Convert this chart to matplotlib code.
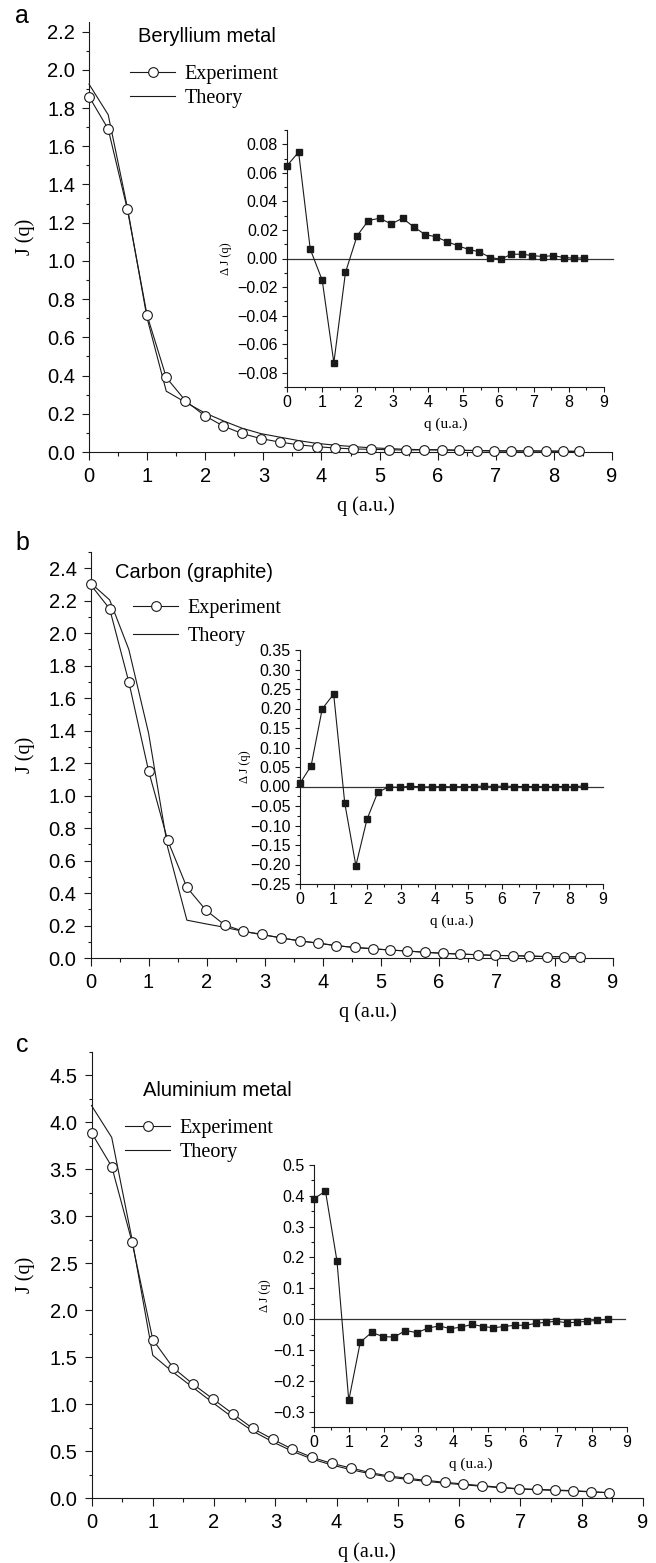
import numpy as np
import matplotlib
matplotlib.use('Agg')
from matplotlib import pyplot as plt
from matplotlib.lines import Line2D
from matplotlib.ticker import MultipleLocator

plt.rcParams['font.family'] = ['Liberation Sans', 'DejaVu Sans']
SERIF = ['Liberation Serif', 'DejaVu Serif']

# momentum grid (a.u.)
q = [0.0, 0.33, 0.66, 1.0, 1.33, 1.66, 1.99, 2.31, 2.63, 2.96, 3.28, 3.60, 3.92, 4.23,
     4.55, 4.86, 5.16, 5.46, 5.77, 6.07, 6.37, 6.68, 6.97, 7.27, 7.56, 7.86, 8.15, 8.44]

# beryllium
be_exp = [1.86, 1.69, 1.27, 0.715, 0.39, 0.268, 0.19, 0.136, 0.097, 0.070, 0.052, 0.038, 0.028, 0.021,
          0.016, 0.014, 0.012, 0.010, 0.012, 0.012, 0.009, 0.007, 0.005, 0.005, 0.005, 0.005, 0.004, 0.003]
be_th = [1.925, 1.765, 1.28, 0.70, 0.318, 0.26, 0.205, 0.163, 0.125, 0.096, 0.078, 0.060, 0.045, 0.036,
         0.028, 0.022, 0.018, 0.014, 0.012, 0.010, 0.009, 0.008, 0.007, 0.006, 0.006, 0.005, 0.004, 0.003]
be_dj = [0.065, 0.0745, 0.0065, -0.0152, -0.073, -0.0098, 0.0159, 0.0266, 0.0282, 0.0242, 0.0282, 0.0221,
         0.0168, 0.0152, 0.0117, 0.0089, 0.0063, 0.0047, 0.0007, -0.0005, 0.003, 0.003, 0.002, 0.0014,
         0.002, 0.0007, 0.0002, 0.0005]

# graphite
gr_exp = [2.30, 2.15, 1.70, 1.153, 0.724, 0.435, 0.294, 0.204, 0.165, 0.145, 0.124, 0.106, 0.092, 0.076,
          0.065, 0.057, 0.049, 0.043, 0.035, 0.029, 0.024, 0.020, 0.016, 0.014, 0.012, 0.008, 0.008, 0.006]
gr_th = [2.31, 2.205, 1.90, 1.385, 0.68, 0.233, 0.21, 0.189, 0.164, 0.143, 0.124, 0.105, 0.091, 0.076,
         0.065, 0.057, 0.049, 0.043, 0.035, 0.029, 0.024, 0.020, 0.016, 0.014, 0.012, 0.009, 0.008, 0.008]
gr_dj = [0.008, 0.053, 0.199, 0.237, -0.043, -0.203, -0.084, -0.015, -0.001, -0.002, 0.001, -0.001, -0.001, 0.0,
         -0.001, 0.0, 0.0, 0.001, 0.0, 0.001, 0.0, 0.0, 0.0, 0.0, 0.0, 0.0, -0.001, 0.002]

# aluminium
al_exp = [3.89, 3.53, 2.73, 1.687, 1.389, 1.211, 1.051, 0.895, 0.742, 0.625, 0.519, 0.433, 0.369, 0.320,
          0.270, 0.234, 0.210, 0.188, 0.167, 0.149, 0.131, 0.114, 0.099, 0.092, 0.085, 0.078, 0.067, 0.057]
al_th = [4.18, 3.84, 2.76, 1.52, 1.34, 1.175, 1.01, 0.855, 0.713, 0.597, 0.497, 0.415, 0.352, 0.302,
         0.258, 0.222, 0.198, 0.177, 0.158, 0.141, 0.125, 0.109, 0.096, 0.088, 0.081, 0.074, 0.065, 0.056]
al_dj = [0.391, 0.415, 0.189, -0.264, -0.075, -0.043, -0.057, -0.058, -0.037, -0.044, -0.029, -0.022, -0.031,
         -0.026, -0.017, -0.024, -0.028, -0.024, -0.020, -0.020, -0.014, -0.010, -0.007, -0.012, -0.010,
         -0.007, -0.004, -0.001]

letters = ['a', 'b', 'c']
titles = ['Beryllium metal', 'Carbon (graphite)', 'Aluminium metal']
legend_labels = ['Experiment', 'Theory']
exps = [be_exp, gr_exp, al_exp]
theories = [be_th, gr_th, al_th]
deltas = [be_dj, gr_dj, al_dj]

W, H = 656, 1563
DPI = 100
fig = plt.figure(figsize=(W / DPI, H / DPI), dpi=DPI)


def rect(l, r, t, b):
    return [l / W, (H - b) / H, (r - l) / W, (b - t) / H]


def fx(x):
    return x / W


def fy(y):
    return (H - y) / H


# layout in pixels: main (l, r, t, b), inset (l, r, t, b)
main_px = [(89, 612, 22, 452), (90.5, 613, 552, 958), (91.5, 643, 1052, 1498)]
inset_px = [(287, 604, 130, 387), (300, 603, 650, 884), (314, 627, 1165, 1427)]
main_ylim = [(0, 2.25), (0, 2.5), (0, 4.75)]
main_major = [0.2, 0.2, 0.5]
inset_ylim = [(-0.09, 0.09), (-0.25, 0.35), (-0.35, 0.5)]
inset_major = [0.02, 0.05, 0.1]
inset_fmt = ['{x:.2f}', '{x:.2f}', '{x:.1f}']
zero_xmax = [1.028, 1.0, 0.995]
letter_xy = [(22, 16), (22, 543), (22, 1045)]
title_xy = [(138, 37), (115, 572), (143, 1090)]
legend_xy = [(130, 86.5), (133, 622.5), (125, 1140.5)]
legend_space = [0.25, 0.45, 0.22]
inset_ylab_px = [226, 245, 265]

ink = '#1a1a1a'

for i in range(3):
    ax = fig.add_axes(rect(*main_px[i]))
    ax.plot(q, theories[i], color=ink, lw=0.8, clip_on=False, zorder=2)
    ax.plot(q, exps[i], color=ink, lw=0.8, marker='o', ms=7, mfc='white', mec=ink, mew=0.8,
            clip_on=False, zorder=3)
    ax.set_xlim(0, 9)
    ax.set_ylim(*main_ylim[i])
    ax.xaxis.set_major_locator(MultipleLocator(1))
    ax.xaxis.set_minor_locator(MultipleLocator(0.5))
    ax.yaxis.set_major_locator(MultipleLocator(main_major[i]))
    ax.yaxis.set_minor_locator(MultipleLocator(main_major[i] / 2))
    ax.yaxis.set_major_formatter('{x:.1f}')
    for s in ['top', 'right']:
        ax.spines[s].set_visible(False)
    for s in ['left', 'bottom']:
        ax.spines[s].set_linewidth(0.8)
        ax.spines[s].set_color(ink)
    ax.tick_params(axis='x', which='major', direction='out', length=6, width=0.8, pad=5,
                   labelsize=14.5, color=ink)
    ax.tick_params(axis='x', which='minor', direction='out', length=3, width=0.8, color=ink)
    ax.tick_params(axis='y', which='major', direction='out', length=5, width=0.8, pad=5,
                   labelsize=14.5, color=ink)
    ax.tick_params(axis='y', which='minor', direction='out', length=2.5, width=0.8, color=ink)
    wid = main_px[i][1] - main_px[i][0]
    hgt = main_px[i][3] - main_px[i][2]
    ax.set_ylabel('J (q)', fontfamily=SERIF, fontsize=14.5)
    ax.yaxis.set_label_coords((25 - main_px[i][0]) / wid, 0.5)
    ax.yaxis.label.set_va('center')
    ax.set_xlabel('q (a.u.)', fontfamily=SERIF, fontsize=14.5)
    ax.xaxis.set_label_coords(0.53 if i < 2 else 0.5, -54 / hgt)
    ax.xaxis.label.set_va('center')

    fig.text(fx(letter_xy[i][0]), fy(letter_xy[i][1]), letters[i], fontsize=18,
             ha='center', va='center')
    fig.text(fx(title_xy[i][0]), fy(title_xy[i][1]), titles[i], fontsize=14.5,
             ha='left', va='center')

    handles = [Line2D([], [], color=ink, lw=0.8, marker='o', ms=7, mfc='white', mec=ink, mew=0.8),
               Line2D([], [], color=ink, lw=0.8)]
    fig.legend(handles, legend_labels, loc='center left',
               bbox_to_anchor=(fx(legend_xy[i][0]), fy(legend_xy[i][1])),
               frameon=False, borderpad=0, borderaxespad=0, handlelength=2.25,
               handletextpad=0.45, labelspacing=legend_space[i], numpoints=1,
               prop={'family': SERIF, 'size': 14.5})

    # inset: difference theory - experiment
    ins = fig.add_axes(rect(*inset_px[i]))
    ins.axhline(0, xmin=0, xmax=zero_xmax[i], color='#333333', lw=0.9, clip_on=False, zorder=1)
    ins.plot(q, deltas[i], color=ink, lw=0.8, marker='s', ms=3.8, mfc=ink, mec=ink,
             clip_on=False, zorder=3)
    ins.set_xlim(0, 9)
    ins.set_ylim(*inset_ylim[i])
    ins.xaxis.set_major_locator(MultipleLocator(1))
    ins.xaxis.set_minor_locator(MultipleLocator(0.5))
    ins.yaxis.set_major_locator(MultipleLocator(inset_major[i]))
    ins.yaxis.set_minor_locator(MultipleLocator(inset_major[i] / 2))
    ins.yaxis.set_major_formatter(inset_fmt[i])
    ins.patch.set_alpha(0)
    for s in ['top', 'right']:
        ins.spines[s].set_visible(False)
    for s in ['left', 'bottom']:
        ins.spines[s].set_linewidth(0.8)
        ins.spines[s].set_color(ink)
    ins.tick_params(axis='both', which='major', direction='out', length=3.5, width=0.8,
                    labelsize=11.5, color=ink)
    ins.tick_params(axis='x', which='major', pad=2.5)
    ins.tick_params(axis='y', which='major', pad=3)
    ins.tick_params(axis='both', which='minor', direction='out', length=2, width=0.8, color=ink)
    iw = inset_px[i][1] - inset_px[i][0]
    ih = inset_px[i][3] - inset_px[i][2]
    ins.set_ylabel('Δ J (q)', fontfamily=SERIF, fontsize=9)
    ins.yaxis.set_label_coords((inset_ylab_px[i] - inset_px[i][0]) / iw, 0.5)
    ins.yaxis.label.set_va('center')
    ins.set_xlabel('q (u.a.)', fontfamily=SERIF, fontsize=11)
    ins.xaxis.set_label_coords(0.5, -37 / ih)
    ins.xaxis.label.set_va('center')

fig.savefig('out.png', dpi=DPI)
